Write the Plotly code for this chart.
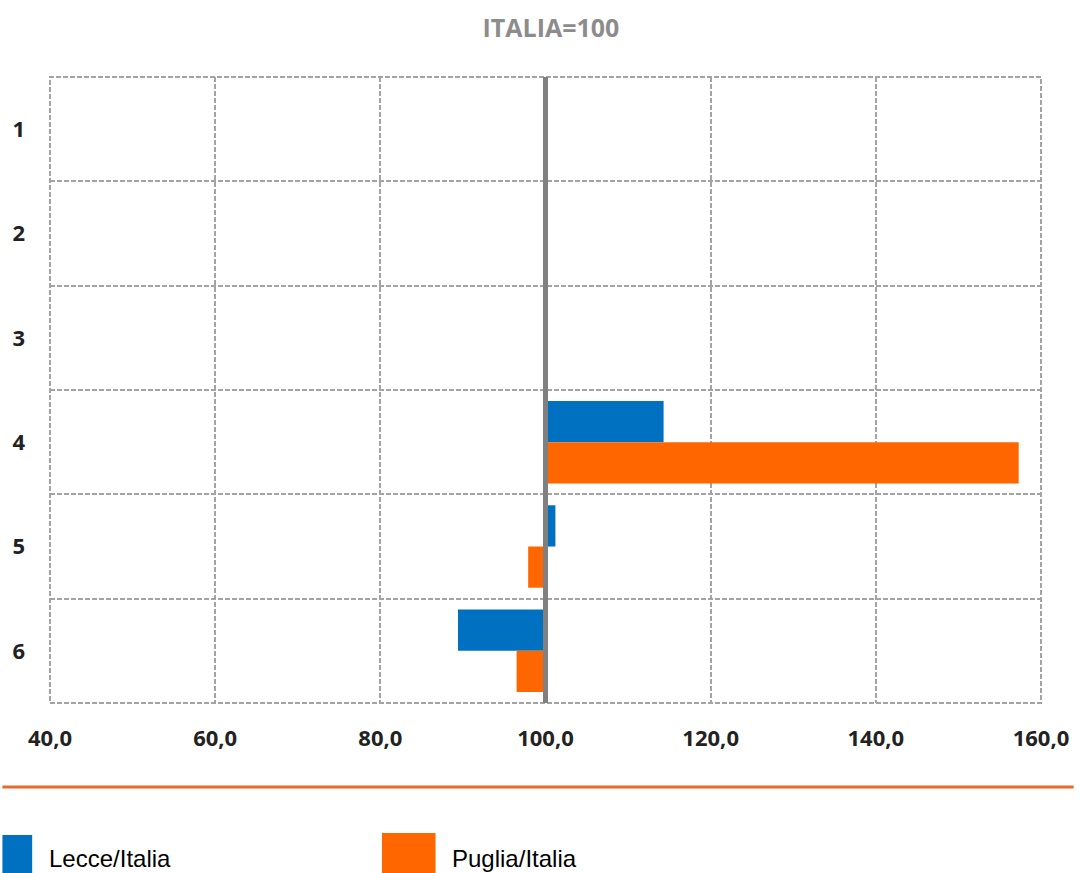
import plotly.graph_objects as go

categories = ["1", "2", "3", "4", "5", "6"]
series_names = ["Lecce/Italia", "Puglia/Italia"]
lecce = [None, None, None, 114.3, 101.2, 89.4]
puglia = [None, None, None, 157.3, 97.9, 96.5]
x_ticks = [40, 60, 80, 100, 120, 140, 160]
base_value = 100
title_text = "ITALIA=100"

colors = ["#0070C0", "#FF6600"]
W, H = 1081, 873
L, R, T, B = 48, 33, 77, 170
pw, ph = W - L - R, H - T - B

def px(xp):
    return (xp - L) / pw

def py(yp):
    return (H - B - yp) / ph

fig = go.Figure()
for name, vals, col in zip(series_names, [lecce, puglia], colors):
    fig.add_trace(go.Bar(
        y=categories,
        x=[None if v is None else v - base_value for v in vals],
        base=base_value,
        orientation="h",
        name=name,
        marker=dict(color=col, line=dict(width=0)),
        showlegend=False,
    ))

grid = dict(showgrid=True, gridcolor="#A3A3A3", gridwidth=2, griddash="5px,2px")
tickfont = dict(family="Open Sans", size=22, color="#222222", weight="bold")
fig.update_layout(
    width=W, height=H,
    margin=dict(l=L, r=R, t=T, b=B),
    paper_bgcolor="white", plot_bgcolor="white",
    barmode="group", bargap=0.21, bargroupgap=0,
    separators=",.",
    title=dict(text=title_text, x=551 / W, xanchor="center", y=1 - 28 / H, yanchor="middle",
               font=dict(family="Open Sans", size=25, color="#8C8C8C", weight="bold")),
    xaxis=dict(range=[40, 160], tickvals=x_ticks, tickformat=".1f", zeroline=False,
               ticks="", ticklabelstandoff=20, tickfont=tickfont, **grid),
    yaxis=dict(type="category", categoryorder="array", categoryarray=categories,
               autorange="reversed", tickson="boundaries", ticks="", ticklabelstandoff=24,
               tickfont=tickfont, **grid),
    font=dict(family="Open Sans"),
)

# dashed border of the plot area
fig.add_shape(type="rect", xref="x domain", yref="y domain", x0=0, x1=1, y0=0, y1=1,
              line=dict(color="#A3A3A3", width=2, dash="5px,2px"), layer="below")
# reference line at 100
fig.add_shape(type="line", xref="x", yref="y domain", x0=base_value, x1=base_value, y0=0, y1=1,
              line=dict(color="#808080", width=5), layer="above")
# orange separator
fig.add_shape(type="line", xref="paper", yref="paper", x0=px(0), x1=px(W), y0=py(787), y1=py(787),
              line=dict(color="#E8692A", width=3))

# legend
legend_items = [(0, 30, 835, 45), (383, 437, 833, 452)]
for (x0, x1, y0, tx), name, col in zip(legend_items, series_names, colors):
    fig.add_shape(type="rect", xref="paper", yref="paper", x0=px(x0), x1=px(x1), y0=py(y0), y1=py(H),
                  line=dict(width=0), fillcolor=col)
    fig.add_annotation(text=name, xref="paper", yref="paper", x=px(tx), y=py(858), xanchor="left",
                       yanchor="middle", showarrow=False,
                       font=dict(family="Liberation Sans", size=24, color="black"))

fig.write_html("out.html")
